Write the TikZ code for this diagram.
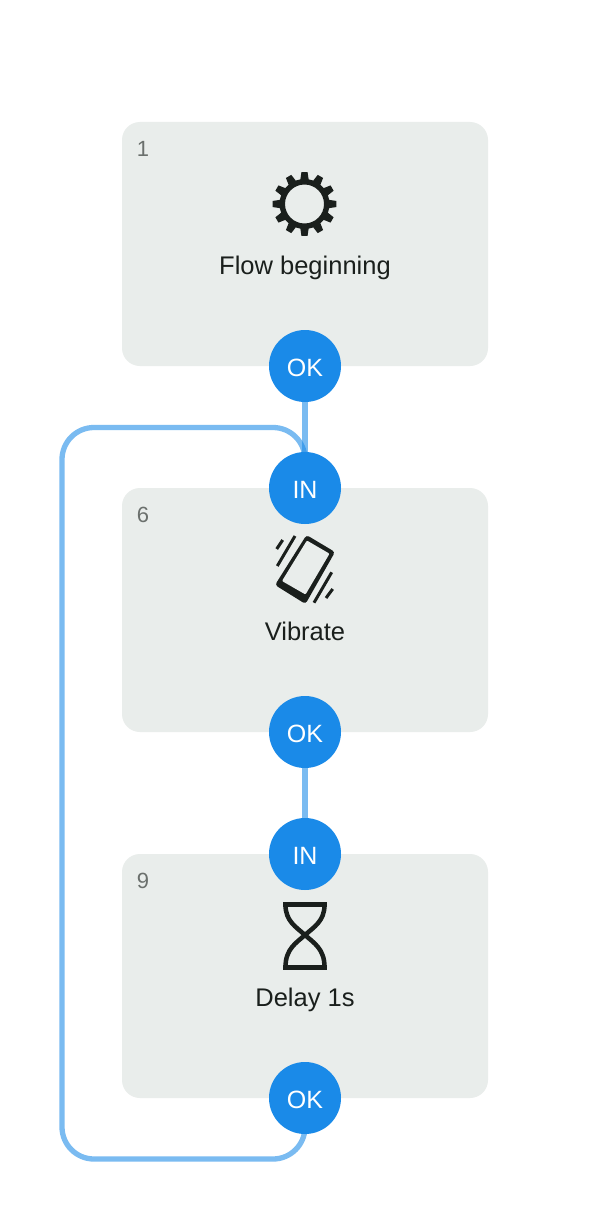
\documentclass[tikz,border=0pt]{standalone}
\usepackage{fontspec}
\setmainfont{Liberation Sans}
\pgfdeclarelayer{boxes}
\pgfdeclarelayer{links}
\pgfsetlayers{boxes,links,main}
\definecolor{boxgrey}{HTML}{E9EDEB}
\definecolor{portblue}{HTML}{1A8AE8}
\definecolor{inkdark}{HTML}{1A1F1C}
\definecolor{numgrey}{HTML}{6B706D}
\tikzset{
  x=1pt,y=-1pt,
  card/.style={fill=boxgrey,rounded corners=18pt,minimum width=366pt,minimum height=244pt,inner sep=0pt},
  port/.style={circle,fill=portblue,text=white,minimum size=72pt,inner sep=0pt,text height=21pt,text depth=0pt,font=\fontsize{25}{25}\selectfont},
  title/.style={anchor=base,inner sep=0pt,text=inkdark,font=\fontsize{25.5}{25.5}\selectfont},
  num/.style={anchor=base,inner sep=0pt,text=numgrey,font=\fontsize{22}{22}\selectfont},
  link/.style={draw=portblue,draw opacity=.58,line width=5.3pt},
  icon/.style={fill=inkdark,even odd rule},
  iconline/.style={draw=inkdark,line width=3pt},
}
\begin{document}
\begin{tikzpicture}
\useasboundingbox (0,0) rectangle (610,1220);
\begin{pgfonlayer}{boxes}
\fill[white] (0,0) rectangle (610,1220);
\node[card] (b1) at (305,244) {};
\node[card] (b6) at (305,610) {};
\node[card] (b9) at (305,976) {};
\end{pgfonlayer}
\node[num] (n1) at (143,156.5) {1};
\node[num] (n6) at (143,522.5) {6};
\node[num] (n9) at (143,888.5) {9};
\node[title] (t1) at (305,274) {Flow beginning};
\node[title] (t6) at (305,640) {Vibrate};
\node[title] (t9) at (305,1006) {Delay 1s};
\node[port] (ok1) at (305,366) {OK};
\node[port] (in6) at (305,488) {IN};
\node[port] (ok6) at (305,732) {OK};
\node[port] (in9) at (305,854) {IN};
\node[port] (ok9) at (305,1098) {OK};
\coordinate (lb) at (62,1159);
\coordinate (lt) at (62,427.5);
\begin{pgfonlayer}{links}
\draw[link] (ok1.center) -- (in6.center);
\draw[link] (ok6.center) -- (in9.center);
\draw[link,rounded corners=32pt] (ok9.center) |- (lb) -- (lt) -| (in6.center);
\end{pgfonlayer}
% gear
\begin{scope}[shift={(304.5,204)}]
\fill[icon] (-9.5:25)
  \foreach \a in {0,30,...,330}{
    -- (\a-9.5:25) -- (\a-5.5:32) -- (\a+5.5:32) -- (\a+9.5:25)
  } -- cycle
  (0,0) circle (19.5);
\end{scope}
% phone
\fill[icon,rounded corners=3pt] (306.5,535) -- (335,552) -- (305.5,604) -- (275,585) -- cycle;
\fill[boxgrey,rounded corners=1pt] (306.9,540.5) -- (329.5,553.7) -- (305.5,594.5) -- (282,581) -- cycle;
\draw[iconline] (282.7,540) -- (276.7,549);
\draw[iconline] (295,536) -- (277.3,566);
\draw[iconline] (331.7,572.3) -- (314,602.7);
\draw[iconline] (332.7,589) -- (326,598);
% hourglass
\fill[inkdark] (283.3,902) rectangle (326.7,907);
\fill[inkdark] (283.3,965) rectangle (326.7,970);
\draw[draw=inkdark,line width=4.5pt]
  (285.5,905) .. controls (285.5,921) and (296,927) .. (305,935)
  .. controls (314,943) and (324.5,949) .. (324.5,967);
\draw[draw=inkdark,line width=4.5pt]
  (324.5,905) .. controls (324.5,921) and (314,927) .. (305,935)
  .. controls (296,943) and (285.5,949) .. (285.5,967);
\end{tikzpicture}
\end{document}
